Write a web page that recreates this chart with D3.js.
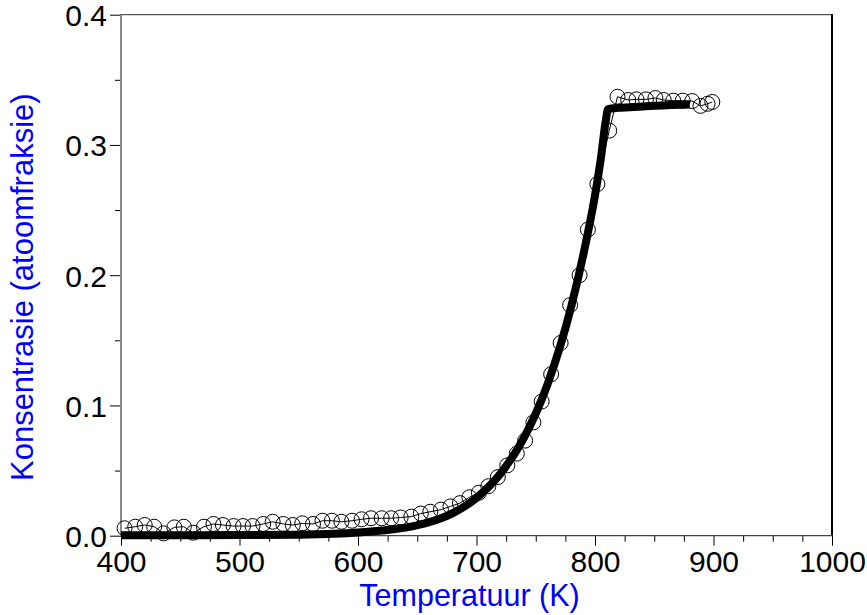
<!DOCTYPE html>
<html>
<head>
<meta charset="utf-8">
<script src="https://cdn.jsdelivr.net/npm/d3@7/dist/d3.min.js"></script>
<style>
  html, body { margin: 0; padding: 0; background: #fff; }
  svg { display: block; font-family: "Liberation Sans", Arial, sans-serif; }
</style>
</head>
<body>
<svg id="chart" width="867" height="615"></svg>
<script>
// Measured concentration (circles)
const measT = [403, 412, 420, 428, 436, 445, 453, 461, 470, 478, 486, 495, 503, 511, 520, 528,
  537, 545, 553, 562, 570, 578, 586, 595, 603, 611, 620, 628, 636, 645, 653, 661, 670, 678,
  686, 694, 702, 710, 718, 726, 734, 741, 748, 755, 763, 771, 779, 787, 794, 802, 812, 819,
  828, 835, 843, 851, 858, 866, 874, 882, 889, 895, 899];
const measC = [0.0057, 0.0069, 0.0082, 0.0069, 0.0018, 0.0064, 0.0069, 0.0023, 0.0069, 0.0090,
  0.0082, 0.0074, 0.0074, 0.0074, 0.0090, 0.0107, 0.0090, 0.0082, 0.0095, 0.0090, 0.0115,
  0.0115, 0.0107, 0.0115, 0.0126, 0.0134, 0.0134, 0.0134, 0.0140, 0.0146, 0.0170, 0.0184,
  0.0200, 0.0225, 0.0250, 0.0295, 0.0330, 0.0380, 0.0450, 0.0540, 0.0630, 0.0730, 0.0870,
  0.1030, 0.1240, 0.1480, 0.1770, 0.2000, 0.2350, 0.2700, 0.3110, 0.3370, 0.3345, 0.3350,
  0.3350, 0.3360, 0.3345, 0.3340, 0.3340, 0.3337, 0.3300, 0.3316, 0.3330];

// Model curve (thick line)
const modelT = [400, 450, 500, 550, 580, 600, 620, 640, 660, 680, 700, 720, 740, 760, 780,
  790, 800, 805, 809, 811, 820, 840, 860, 880];
const modelC = [0.0003, 0.0004, 0.0005, 0.0008, 0.0015, 0.0025, 0.0040, 0.0062, 0.0103,
  0.0173, 0.0291, 0.0474, 0.0751, 0.1164, 0.1762, 0.2151, 0.2613, 0.2900, 0.3180, 0.3275,
  0.3285, 0.3295, 0.3305, 0.3310];

// Axis ticks
const xMajor = [400, 500, 600, 700, 800, 900, 1000];
const xMinor = [425, 450, 475, 525, 550, 575, 625, 650, 675, 725, 750, 775, 825, 850, 875, 925, 950, 975];
const yMajor = [0.0, 0.1, 0.2, 0.3, 0.4];
const yMinor = [0.05, 0.15, 0.25, 0.35];

const xTitle = "Temperatuur (K)";
const yTitle = "Konsentrasie (atoomfraksie)";

(function draw() {
  const svg = d3.select("#chart");
  const pLeft = 121, pRight = 832, pTop = 14.7, pBottom = 535.7;

  const x = d3.scaleLinear().domain([400, 1000]).range([pLeft, pRight]);
  const y = d3.scaleLinear().domain([0, 0.4]).range([pBottom, pTop]);

  // Axes
  const fontSize = 30;
  const gx = svg.append("g").attr("transform", `translate(0,${pBottom})`);
  gx.call(d3.axisBottom(x).tickValues(xMajor).tickSize(10).tickPadding(5).tickFormat(d3.format("d")));
  const gxm = svg.append("g").attr("transform", `translate(0,${pBottom})`);
  gxm.call(d3.axisBottom(x).tickValues(xMinor).tickSize(6).tickFormat(""));

  const gy = svg.append("g").attr("transform", `translate(${pLeft},0)`);
  gy.call(d3.axisLeft(y).tickValues(yMajor).tickSize(11).tickPadding(3).tickFormat(d3.format(".1f")));
  const gym = svg.append("g").attr("transform", `translate(${pLeft},0)`);
  gym.call(d3.axisLeft(y).tickValues(yMinor).tickSize(6).tickFormat(""));

  [gx, gxm, gy, gym].forEach(g => {
    g.select(".domain").remove();
    g.selectAll(".tick line").attr("stroke", "#000").attr("stroke-width", 1);
    g.selectAll(".tick text").attr("fill", "#000").attr("font-size", fontSize)
      .attr("font-family", "Liberation Sans, Arial, sans-serif");
  });
  gy.selectAll(".tick text").attr("dy", "0.36em");

  // Frame
  svg.append("line").attr("x1", pLeft - 1).attr("x2", pRight).attr("y1", pTop).attr("y2", pTop)
    .attr("stroke", "#555").attr("stroke-width", 1.2);
  svg.append("line").attr("x1", pRight).attr("x2", pRight).attr("y1", pTop - 0.6).attr("y2", pBottom)
    .attr("stroke", "#000").attr("stroke-width", 2);
  svg.append("line").attr("x1", pLeft).attr("x2", pLeft).attr("y1", pTop).attr("y2", pBottom)
    .attr("stroke", "#888").attr("stroke-width", 2);
  svg.append("line").attr("x1", pLeft).attr("x2", pRight).attr("y1", pBottom).attr("y2", pBottom)
    .attr("stroke", "#444").attr("stroke-width", 1.2);

  // Measured data
  const meas = measT.map((t, i) => [t, measC[i]]);
  svg.append("g").selectAll("circle").data(meas).join("circle")
    .attr("cx", d => x(d[0])).attr("cy", d => y(d[1])).attr("r", 7.5)
    .attr("fill", "none").attr("stroke", "#000").attr("stroke-width", 1);
  svg.append("path").datum(meas)
    .attr("d", d3.line().x(d => x(d[0])).y(d => y(d[1])))
    .attr("fill", "none").attr("stroke", "#000").attr("stroke-width", 1);

  // Model curve
  const model = modelT.map((t, i) => [t, modelC[i]]);
  svg.append("path").datum(model)
    .attr("d", d3.line().x(d => x(d[0])).y(d => y(d[1])).curve(d3.curveMonotoneX))
    .attr("fill", "none").attr("stroke", "#000").attr("stroke-width", 8)
    .attr("stroke-linejoin", "round").attr("stroke-linecap", "butt");

  // Titles
  svg.append("text").attr("x", (pLeft + pRight) / 2 - 7).attr("y", 606)
    .attr("text-anchor", "middle").attr("fill", "#0000ff").attr("font-size", 30.5)
    .text(xTitle);
  svg.append("text")
    .attr("transform", `translate(33,${(pTop + pBottom) / 2 + 12}) rotate(-90)`)
    .attr("text-anchor", "middle").attr("fill", "#0000ff").attr("font-size", 31)
    .text(yTitle);
})();
</script>
</body>
</html>
